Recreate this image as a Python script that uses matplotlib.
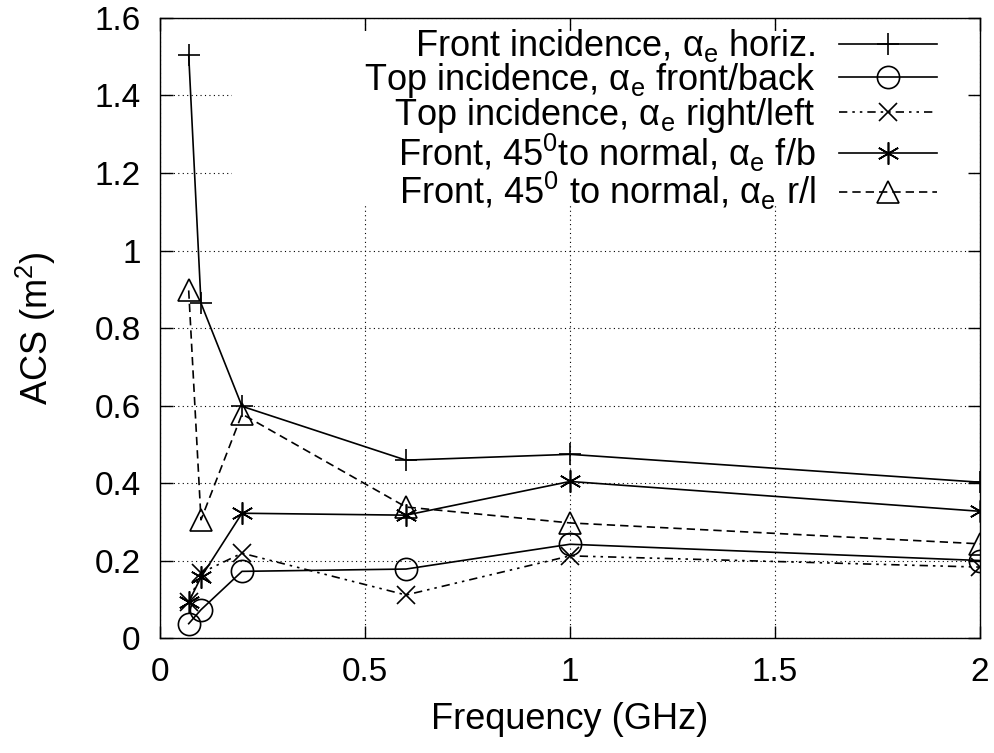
import numpy as np
import matplotlib.pyplot as plt
from matplotlib.patches import Rectangle

# frequencies (GHz)
freq = [0.07, 0.1, 0.2, 0.6, 1.0, 2.0]

# absorption cross section (m^2)
front_horiz = [1.505, 0.864, 0.598, 0.459, 0.474, 0.402]
top_fb = [0.037, 0.073, 0.172, 0.178, 0.242, 0.200]
top_rl = [0.092, 0.168, 0.219, 0.111, 0.212, 0.183]
front45_fb = [0.093, 0.157, 0.322, 0.317, 0.404, 0.327]
front45_rl = [0.897, 0.305, 0.578, 0.338, 0.297, 0.243]

labels = [
    'Front incidence, \u03b1$_\\mathrm{e}$ horiz.',
    'Top incidence, \u03b1$_\\mathrm{e}$ front/back',
    'Top incidence, \u03b1$_\\mathrm{e}$ right/left',
    'Front, 45$^\\mathrm{0}$to normal, \u03b1$_\\mathrm{e}$ f/b',
    'Front, 45$^\\mathrm{0}$ to normal, \u03b1$_\\mathrm{e}$ r/l',
]

xticks = [0, 0.5, 1, 1.5, 2]
xticklabels = ['0', '0.5', '1', '1.5', '2']
yticks = [0, 0.2, 0.4, 0.6, 0.8, 1.0, 1.2, 1.4, 1.6]
yticklabels = ['0', '0.2', '0.4', '0.6', '0.8', '1', '1.2', '1.4', '1.6']

plt.rcParams['font.family'] = ['Liberation Sans', 'DejaVu Sans']
plt.rcParams['mathtext.fontset'] = 'custom'
plt.rcParams['mathtext.rm'] = 'Liberation Sans'
plt.rcParams['mathtext.it'] = 'Liberation Sans:italic'
plt.rcParams['font.size'] = 24

fig = plt.figure(figsize=(9.95, 7.53), dpi=100)
ax = fig.add_axes([0.1608, 0.1527, 0.8242, 0.8234])

ms = 16
lw = 1.2
star = (6, 2, 0)

ax.plot(freq, front_horiz, color='black', lw=lw, marker='+', ms=ms, mew=lw,
        label=labels[0])
ax.plot(freq, top_fb, color='black', lw=lw, marker='o', ms=ms, mew=lw,
        mfc='none', label=labels[1])
ax.plot(freq, top_rl, color='black', lw=lw, ls=(0, (5, 3, 1.5, 3, 1.5, 3)),
        marker='x', ms=ms * 0.8, mew=lw, label=labels[2])
ax.plot(freq, front45_fb, color='black', lw=lw, marker=star, ms=ms, mew=lw,
        label=labels[3])
ax.plot(freq, front45_rl, color='black', lw=lw, ls=(0, (5, 3)), marker='^',
        ms=ms, mew=lw, mfc='none', label=labels[4])

ax.set_xlim(0, 2)
ax.set_ylim(0, 1.6)
ax.set_xticks(xticks)
ax.set_xticklabels(xticklabels)
ax.set_yticks(yticks)
ax.set_yticklabels(yticklabels)
ax.tick_params(direction='in', length=9, width=1, top=True, right=True, pad=14)
ax.grid(True, color='black', ls=(0, (1, 3)), lw=0.8)
for s in ax.spines.values():
    s.set_linewidth(1)

# gnuplot-style opaque key area hides the grid behind it (ticks stay visible)
ax.add_patch(Rectangle((0.088, 0.698), 0.896, 0.281, transform=ax.transAxes,
                       facecolor='white', edgecolor='none', zorder=1.6))

ax.set_xlabel('Frequency (GHz)', fontsize=26, labelpad=10)
ax.set_ylabel('ACS (m$^2$)', fontsize=26, labelpad=26)

leg = ax.legend(loc='upper right', markerfirst=False, frameon=False,
                fontsize=26, handlelength=2.7, handletextpad=0.65,
                labelspacing=-0.1, borderpad=0.1, borderaxespad=1.1)
leg.set_bbox_to_anchor((1.0, 1.055), transform=ax.transAxes)

fig.savefig('out.png', dpi=100)
